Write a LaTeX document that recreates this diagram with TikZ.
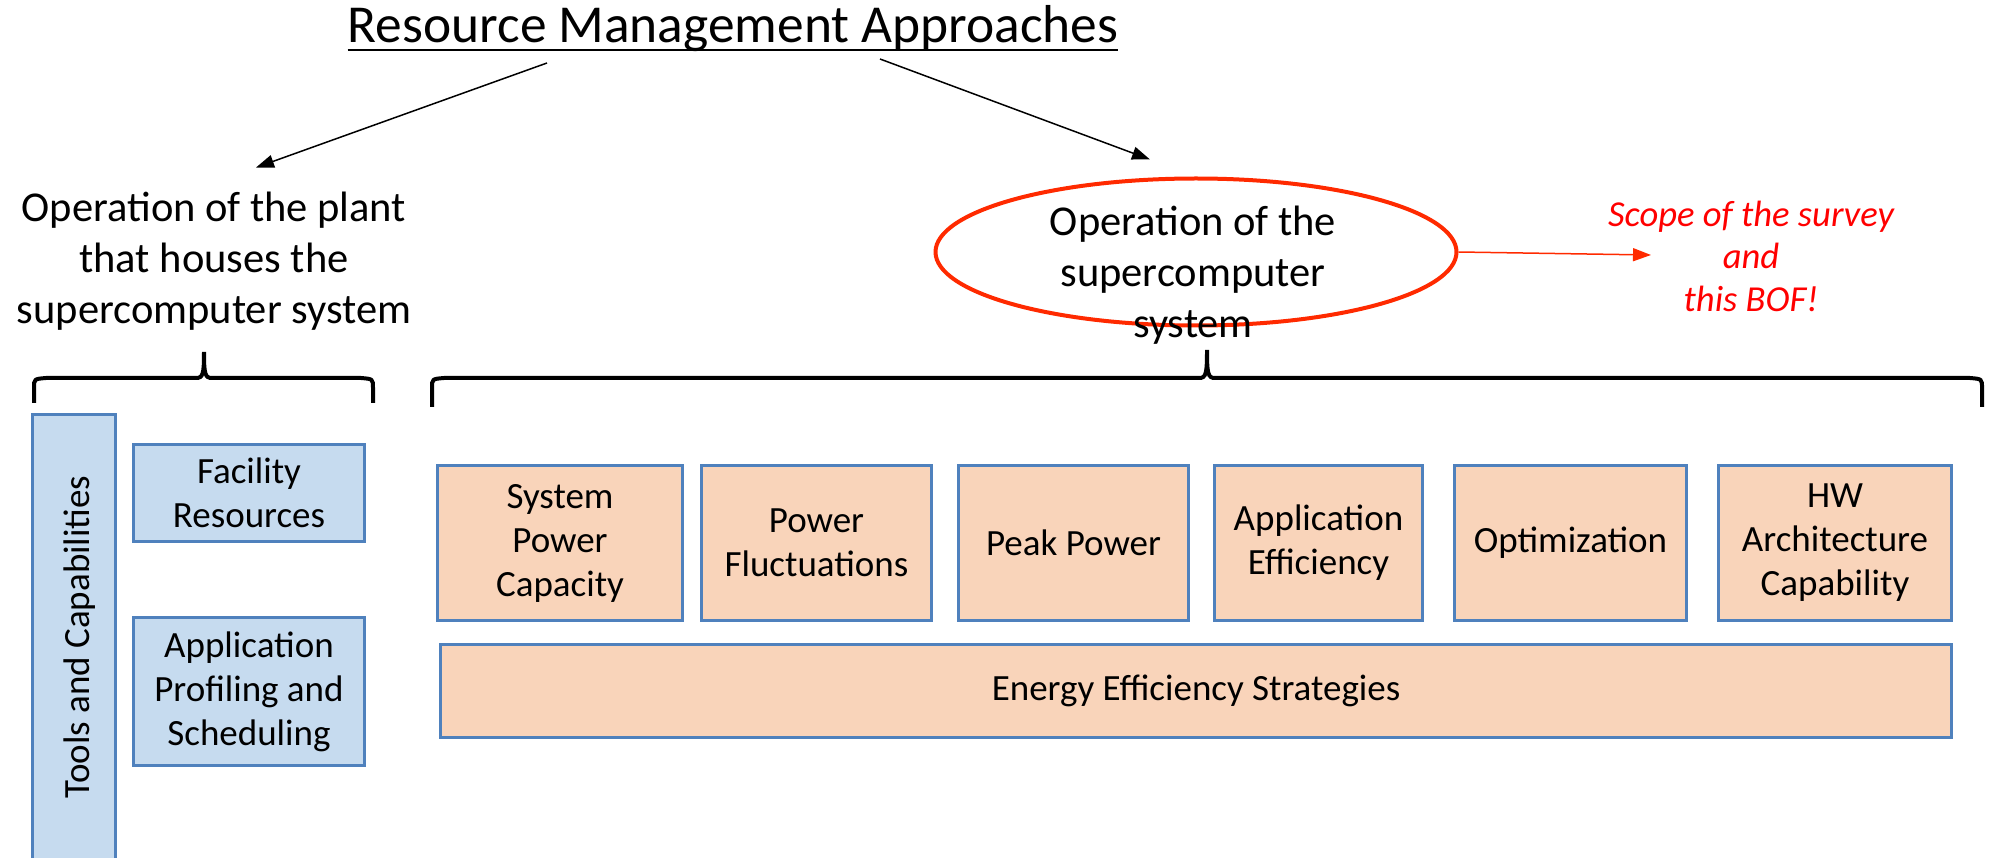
\documentclass[tikz,border=0pt]{standalone}
\usepackage{fontspec}
\setmainfont{Carlito}
\usetikzlibrary{positioning,calc,arrows.meta,shapes.geometric}

\definecolor{boxblue}{HTML}{C6DBEF}
\definecolor{edgeblue}{HTML}{4F81BD}
\definecolor{boxorange}{HTML}{F9D4BA}
\definecolor{ringred}{HTML}{FF2A00}
\definecolor{scopered}{HTML}{FF0000}

\begin{document}
\begin{tikzpicture}[x=1pt,y=-1pt,semithick,>={Triangle[length=18pt,width=13pt]}]
		 \tikzstyle{every node}=[inner sep=0pt]
		 \tikzstyle{heading}=[font=\fontsize{53.4}{64}\selectfont]
		 \tikzstyle{branch}=[align=center,font=\fontsize{42.5}{51}\selectfont]
		 \tikzstyle{toolbox}=[draw=edgeblue,fill=boxblue,line width=3pt,align=center,font=\fontsize{37}{44}\selectfont]
		 \tikzstyle{focusbox}=[toolbox,fill=boxorange,minimum height=155pt]
		 \tikzstyle{arr}=[->,line width=1.5pt]
		 \tikzstyle{brace}=[line width=4pt]

		  \useasboundingbox (0,0) rectangle (1995,858);

		  % title and the two branches
		  \node         (title) [heading,anchor=base] at (733,43) {Resource Management Approaches};
		  \draw[line width=2.5pt] ($(title.base west)+(0,7)$) -- ($(title.base east)+(0,7)$);
		  \node         (plant) [branch] at (214,261) {Operation of the plant\\that houses the\\supercomputer system};
		  \node         (ring) [ellipse,draw=ringred,line width=4pt,minimum width=521pt,minimum height=147pt] at (1196,252) {};
		  \node         (system) [branch] at (1193,275) {Operation of the\\supercomputer\\system};
		  \node         (scope) [align=center,text=scopered,font=\itshape\fontsize{36.6}{42.5}\selectfont] at (1751,256) {Scope of the survey\\and\\this BOF!};
		  \coordinate   (scopein) at (1651,255);

		  \draw[arr] ($(title.base)+(-186,20)$) -- ($(plant.north)+(42,-24)$);
		  \draw[arr] ($(title.base)+(147,16)$) -- ($(ring.north)+(-46,-17)$);
		  \draw[arr,ringred] (ring.east) -- (scopein);

		  % braces
		  \draw[brace] (34,403) -- (34,388) .. controls (34,379) .. (46,378) -- (196,378) .. controls (203,378) and (204,374) .. (204,352)
		        .. controls (204,374) and (205,378) .. (212,378) -- (361,378) .. controls (373,379) .. (373,388) -- (373,403);
		  \draw[brace] (432,407) -- (432,388) .. controls (432,379) .. (444,378) -- (1199,378) .. controls (1206,378) and (1207,374) .. (1207,350)
		        .. controls (1207,374) and (1208,378) .. (1215,378) -- (1970,378) .. controls (1982,379) .. (1982,388) -- (1982,407);

		  % plant side
		  \node         (tools) [toolbox,minimum width=83pt,minimum height=470pt,anchor=north] at (74,413) {};
		  \node         (toolstext) [rotate=90,font=\fontsize{37}{43}\selectfont] at (80,637) {Tools and Capabilities};
		  \node         (facility) [toolbox,minimum width=231pt,minimum height=97pt] at (249,493) {Facility\\Resources};
		  \node         (profiling) [toolbox,minimum width=231pt,minimum height=148pt,below=73pt of facility] {Application\\Profiling and\\Scheduling};

		  % system side
		  \node         (spc) [focusbox,minimum width=245pt] at (560,543) {System\\Power\\Capacity};
		  \node         (pf) [focusbox,minimum width=230pt,right=16pt of spc] {Power\\Fluctuations};
		  \node         (peak) [focusbox,minimum width=230pt,right=24pt of pf] {Peak Power};
		  \node         (ae) [focusbox,minimum width=208pt,right=23pt of peak] {Application\\Efficiency};
		  \node         (opt) [focusbox,minimum width=232pt,right=29pt of ae] {Optimization};
		  \node         (hw) [focusbox,minimum width=233pt,right=29pt of opt] {HW\\Architecture\\Capability};
		  \node         (energy) [focusbox,minimum width=1511pt,minimum height=93pt,anchor=north west] at (439,643) {Energy Efficiency Strategies};

		\end{tikzpicture}
\end{document}
